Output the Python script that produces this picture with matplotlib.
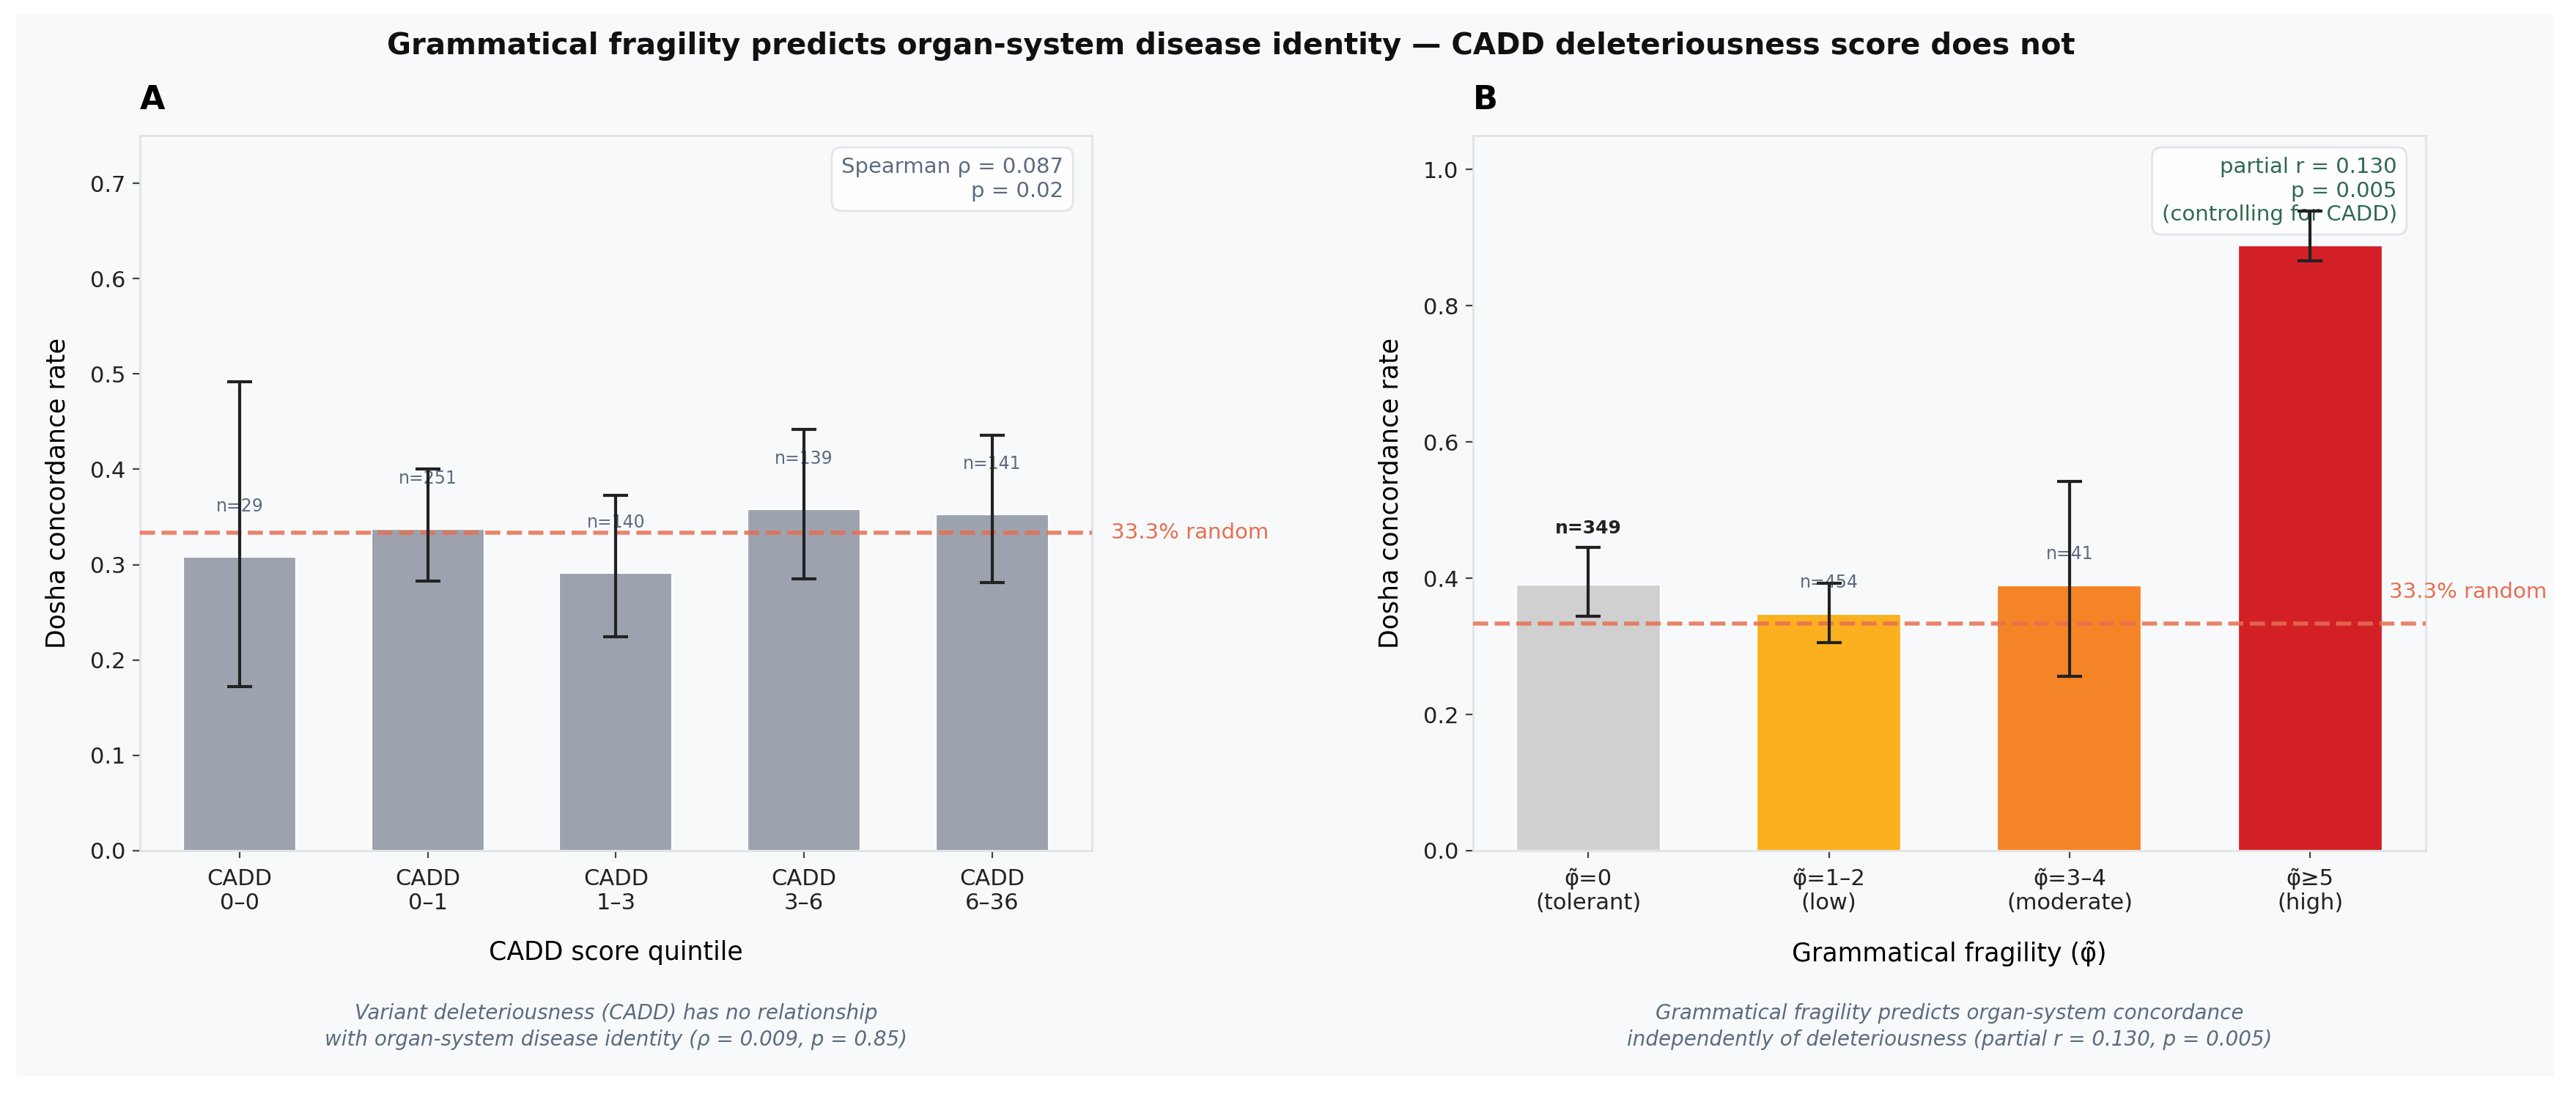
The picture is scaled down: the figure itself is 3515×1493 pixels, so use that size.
import matplotlib.pyplot as plt
import numpy as np
from matplotlib.patches import Rectangle


# Panel A: concordance by CADD quintile
CADD_LABELS = ["CADD\n0–0", "CADD\n0–1", "CADD\n1–3", "CADD\n3–6", "CADD\n6–36"]
CADD_RATE = [0.308, 0.337, 0.291, 0.358, 0.353]
CADD_LOW = [0.172, 0.283, 0.224, 0.285, 0.281]
CADD_HIGH = [0.492, 0.400, 0.373, 0.442, 0.436]
CADD_N = [29, 251, 140, 139, 141]

# Panel B: concordance by grammatical fragility bin
FRAG_LABELS = [
    "φ̃=0\n(tolerant)",
    "φ̃=1–2\n(low)",
    "φ̃=3–4\n(moderate)",
    "φ̃≥5\n(high)",
]
FRAG_RATE = [0.391, 0.347, 0.389, 0.889]
FRAG_LOW = [0.344, 0.306, 0.256, 0.866]
FRAG_HIGH = [0.445, 0.393, 0.542, 0.939]
FRAG_N = [349, 454, 41]

RANDOM_RATE = 1 / 3

BG = "#f8f9fa"
SPINE = "#dfe4e8"
SLATE = "#5b6b80"
CORAL = "#e76f51"
FRAG_COLORS = ["#d0d0d0", "#fbb020", "#f58426", "#d32027"]

plt.rcParams["font.family"] = ["DejaVu Sans"]

fig = plt.figure(figsize=(17.575, 7.465), dpi=200, facecolor="white")
fig.patches.append(Rectangle(
    (0.0063, 0.0161), 0.9852, 0.9705,
    transform=fig.transFigure, facecolor=BG, edgecolor="none", zorder=-10,
))

ax_a = fig.add_axes([0.0543, 0.2224, 0.3696, 0.6537])
ax_b = fig.add_axes([0.5718, 0.2224, 0.3698, 0.6537])


def style_axes(ax):
    ax.set_facecolor(BG)
    for spine in ax.spines.values():
        spine.set_color(SPINE)
        spine.set_linewidth(1.0)
    ax.tick_params(axis="both", labelsize=11, color="#444444", labelcolor="#222222")
    ax.tick_params(axis="x", pad=5)


def draw_errors(ax, x, rate, low, high):
    rate = np.array(rate)
    yerr = [rate - np.array(low), np.array(high) - rate]
    ax.errorbar(
        x, rate, yerr=yerr, fmt="none",
        ecolor="#222222", elinewidth=1.5, capsize=6, capthick=1.5,
        zorder=5,
    )


# Panel A
x_a = np.arange(len(CADD_LABELS))
style_axes(ax_a)
ax_a.bar(x_a, CADD_RATE, width=0.6, color="#9ca3af",
         edgecolor="white", linewidth=0.8, zorder=2)
draw_errors(ax_a, x_a, CADD_RATE, CADD_LOW, CADD_HIGH)
ax_a.axhline(RANDOM_RATE, color=CORAL, linestyle="--", linewidth=2,
             alpha=0.85, zorder=3)
ax_a.text(1.02, RANDOM_RATE, "33.3% random", transform=ax_a.get_yaxis_transform(),
          color=CORAL, fontsize=10.5, va="center", ha="left")

for xi, rate, n in zip(x_a, CADD_RATE, CADD_N):
    ax_a.text(xi, rate + 0.053, f"n={n}", ha="center", va="center",
              fontsize=8.5, color=SLATE, zorder=4)

ax_a.set_ylim(0, 0.75)
ax_a.set_xticks(x_a)
ax_a.set_xticklabels(CADD_LABELS)
ax_a.set_ylabel("Dosha concordance rate", fontsize=12.5, labelpad=10)
ax_a.set_xlabel("CADD score quintile", fontsize=12.5, labelpad=13)
ax_a.set_title("A", loc="left", fontsize=16, fontweight="bold", pad=13)

ax_a.text(0.97, 0.97, "Spearman ρ = 0.087\np = 0.02", transform=ax_a.transAxes,
          ha="right", va="top", fontsize=10.5, color=SLATE, zorder=4,
          bbox=dict(boxstyle="round,pad=0.45", facecolor="white",
                    edgecolor=SPINE, alpha=0.95))

ax_a.text(0.5, -0.246,
          "Variant deleteriousness (CADD) has no relationship\n"
          "with organ-system disease identity (ρ = 0.009, p = 0.85)",
          transform=ax_a.transAxes, ha="center", va="center",
          fontsize=10, style="italic", color=SLATE, linespacing=1.4)

# Panel B
x_b = np.arange(len(FRAG_LABELS))
style_axes(ax_b)
ax_b.bar(x_b, FRAG_RATE, width=0.6, color=FRAG_COLORS,
         edgecolor="white", linewidth=0.8, zorder=2)
draw_errors(ax_b, x_b, FRAG_RATE, FRAG_LOW, FRAG_HIGH)
ax_b.axhline(RANDOM_RATE, color=CORAL, linestyle="--", linewidth=2,
             alpha=0.85, zorder=3)
ax_b.text(3.33, RANDOM_RATE + 0.046, "33.3% random",
          color=CORAL, fontsize=10.5, va="center", ha="left")

for i, n in enumerate(FRAG_N):
    if i == 0:
        ax_b.text(x_b[i], FRAG_HIGH[i] + 0.028, f"n={n}", ha="center", va="center",
                  fontsize=9, fontweight="bold", color="#222222", zorder=4)
    else:
        ax_b.text(x_b[i], FRAG_RATE[i] + 0.047, f"n={n}", ha="center", va="center",
                  fontsize=8.5, color=SLATE, zorder=4)

ax_b.set_ylim(0, 1.05)
ax_b.set_xticks(x_b)
ax_b.set_xticklabels(FRAG_LABELS)
ax_b.set_ylabel("Dosha concordance rate", fontsize=12.5, labelpad=10)
ax_b.set_xlabel("Grammatical fragility (φ̃)", fontsize=12.5, labelpad=13)
ax_b.set_title("B", loc="left", fontsize=16, fontweight="bold", pad=13)

ax_b.text(0.97, 0.97, "partial r = 0.130\np = 0.005\n(controlling for CADD)",
          transform=ax_b.transAxes, ha="right", va="top", fontsize=10.5,
          color="#2d6a4f", zorder=4,
          bbox=dict(boxstyle="round,pad=0.45", facecolor="white",
                    edgecolor=SPINE, alpha=0.97))

ax_b.text(0.5, -0.246,
          "Grammatical fragility predicts organ-system concordance\n"
          "independently of deleteriousness (partial r = 0.130, p = 0.005)",
          transform=ax_b.transAxes, ha="center", va="center",
          fontsize=10, style="italic", color=SLATE, linespacing=1.4)

fig.text(0.478, 0.958,
         "Grammatical fragility predicts organ-system disease identity — "
         "CADD deleteriousness score does not",
         ha="center", va="center", fontsize=14.5, fontweight="bold", color="#111111")

fig.savefig("out.png", dpi=200, facecolor=fig.get_facecolor())
